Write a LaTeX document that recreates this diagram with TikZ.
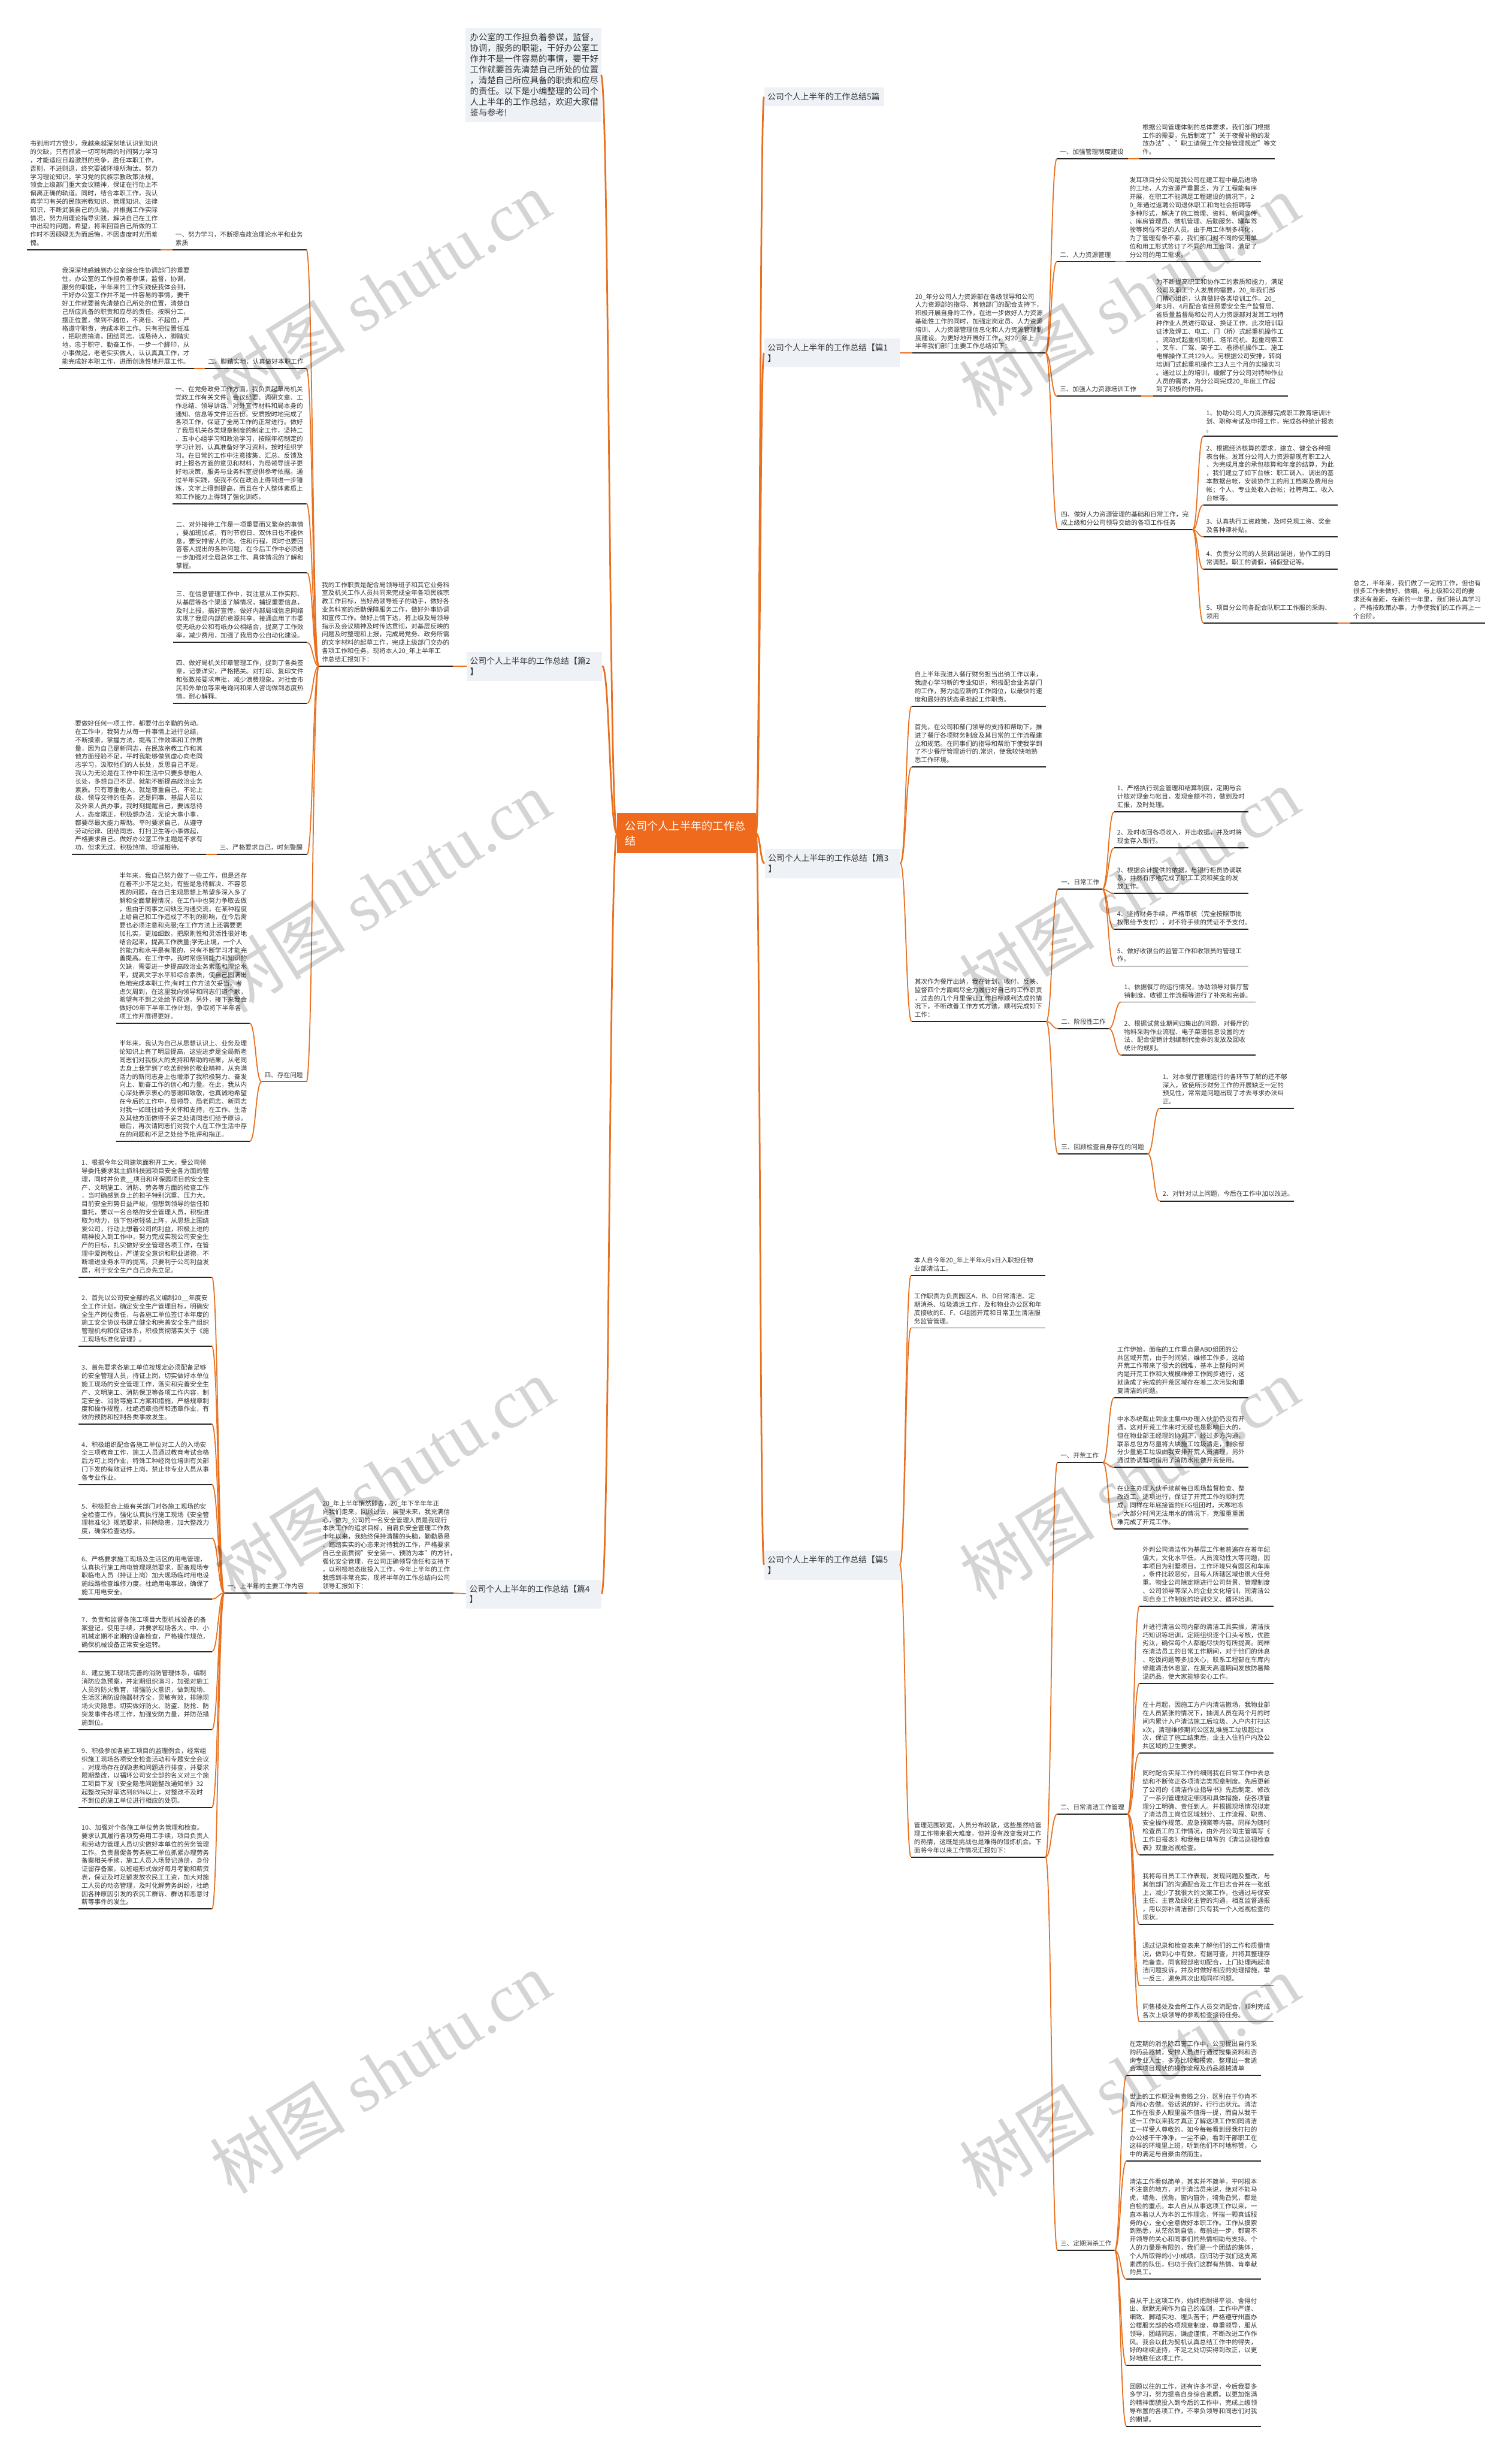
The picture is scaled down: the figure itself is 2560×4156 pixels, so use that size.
\documentclass[tikz,border=0pt]{standalone}
\usepackage{fontspec}
\setmainfont{Noto Sans CJK SC}
\newfontfamily\wmfont{Liberation Serif}
\usetikzlibrary{calc}
\definecolor{orc}{HTML}{E8701E}
\definecolor{ulc}{HTML}{262626}
\definecolor{txc}{HTML}{333333}
\definecolor{boxc}{HTML}{EEF1F5}
\definecolor{ctrc}{HTML}{F06A1E}
\tikzset{
  uline/.style={draw=ulc, line width=1.8pt},
  cn/.style={draw=orc, line width=1.8pt},
  cnA/.style={draw=orc, line width=2.8pt},
  txt/.style={anchor=south west, inner sep=0pt, align=left, text=txc, font=\fontsize{10.8}{14}\selectfont},
  lonebox/.style={fill=boxc, anchor=north west, inner xsep=6pt, inner ysep=0pt, text width=218pt, minimum height=49pt, align=left, text=txc, font=\fontsize{14}{18}\selectfont},
  ctrbox/.style={fill=ctrc, anchor=north west, inner xsep=14pt, inner ysep=0pt, text width=207pt, minimum height=68pt, align=left, text=white, font=\fontsize{18.5}{25}\selectfont},
  introbox/.style={fill=boxc, anchor=north west, inner xsep=8pt, inner ysep=0pt, text width=214pt, minimum height=160pt, align=left, text=txc, font=\fontsize{14.5}{18.3}\selectfont},
  wm/.style={text=black, opacity=0.17, inner sep=0pt, rotate=32, font=\fontsize{115}{115}\selectfont}
}
\newcommand{\mmnode}[5]{%
  \draw[uline] (#2,#4) coordinate (#1L) -- (#3,#4) coordinate (#1R);
  \node[txt] (#1) at (#2+5,#4-6.5) {#5};}
\newcommand{\mmconn}[2]{\draw[cn] (#1) .. controls ($(#1)!0.5!(#1 -| #2)$) and ($(#2)!0.5!(#2 -| #1)$) .. (#2);}
\newcommand{\mmconnA}[2]{\draw[cnA] (#1) .. controls ($(#1)!0.5!(#1 -| #2)$) and ($(#2)!0.5!(#2 -| #1)$) .. (#2);}
\begin{document}
\begin{tikzpicture}[x=1pt,y=-1pt]
\useasboundingbox (0,0) rectangle (2560,4156);
\fill[white] (0,0) rectangle (2560,4156);

% ---------- central and level-1 ----------
\node[ctrbox] (ctr) at (1045,1377) {公司个人上半年的工作总\\结};
\node[introbox] (intro) at (788,47) {办公室的工作担负着参谋，监督，\\协调，服务的职能，干好办公室工\\作并不是一件容易的事情，要干好\\工作就要首先清楚自己所处的位置\\，清楚自己所应具备的职责和应尽\\的责任。以下是小编整理的公司个\\人上半年的工作总结，欢迎大家借\\鉴与参考!};
\coordinate (introR) at (1018,127);
\node[lonebox, text width=191pt, minimum height=31pt] (Bfive) at (1294,148) {公司个人上半年的工作总结5篇};
\coordinate (BfiveL) at (1294,164);
\node[lonebox] (Bone) at (1294,573) {公司个人上半年的工作总结【篇1\\】};
\coordinate (BoneL) at (1294,598); \coordinate (BoneR) at (1524,598);
\node[lonebox] (Bthree) at (1295,1438) {公司个人上半年的工作总结【篇3\\】};
\coordinate (BthreeL) at (1295,1462); \coordinate (BthreeR) at (1525,1462);
\node[lonebox] (Bfv) at (1294,2626) {公司个人上半年的工作总结【篇5\\】};
\coordinate (BfvL) at (1294,2650); \coordinate (BfvR) at (1524,2650);
\node[lonebox] (Btwo) at (790,1104) {公司个人上半年的工作总结【篇2\\】};
\coordinate (BtwoL) at (790,1128); \coordinate (BtwoR) at (1020,1128);
\node[lonebox] (Bfour) at (789,2675) {公司个人上半年的工作总结【篇4\\】};
\coordinate (BfourL) at (789,2699); \coordinate (BfourR) at (1019,2699);

\mmconnA{ctr.west}{introR}
\mmconnA{ctr.west}{BtwoR}
\mmconnA{ctr.west}{BfourR}
\mmconnA{ctr.east}{BfiveL}
\mmconnA{ctr.east}{BoneL}
\mmconnA{ctr.east}{BthreeL}
\mmconnA{ctr.east}{BfvL}

% ---------- 篇2 (left) ----------
\mmnode{Lp}{540}{767}{1128}{我的工作职责是配合局领导班子和其它业务科\\室及机关工作人员共同来完成全年各项民族宗\\教工作目标，当好局领导班子的助手，做好各\\业务科室的后勤保障服务工作，做好外事协调\\和宣传工作。做好上情下达，将上级及局领导\\指示及会议精神及时传达贯彻，对基层反映的\\问题及时整理和上报，完成局党务、政务所需\\的文字材料的起草工作，完成上级部门交办的\\各项工作和任务。现将本人20\_年上半年工\\作总结汇报如下：}
\mmnode{La}{292}{519}{423}{一、努力学习，不断提高政治理论水平和业务\\素质}
\mmnode{Laa}{46}{272}{423}{书到用时方恨少，我越来越深刻地认识到知识\\的欠缺，只有抓紧一切可利用的时间努力学习\\，才能适应日趋激烈的竞争，胜任本职工作，\\否则，不进则退，终究要被环境所淘汰。努力\\学习理论知识，学习党的民族宗教政策法规，\\领会上级部门重大会议精神，保证在行动上不\\偏离正确的轨道。同时，结合本职工作，我认\\真学习有关的民族宗教知识、管理知识、法律\\知识，不断武装自己的头脑。并根据工作实际\\情况，努力用理论指导实践，解决自己在工作\\中出现的问题。希望，将来回首自己所做的工\\作时不因碌碌无为而后悔，不因虚度时光而羞\\愧。}
\mmnode{Lb}{347}{519}{624}{二、脚踏实地，认真做好本职工作}
\mmnode{Lba}{100}{329}{624}{我深深地感触到办公室综合性协调部门的重要\\性，办公室的工作担负着参谋，监督，协调，\\服务的职能，半年来的工作实践使我体会到，\\干好办公室工作并不是一件容易的事情，要干\\好工作就要首先清楚自己所处的位置，清楚自\\己所应具备的职责和应尽的责任。按照分工，\\摆正位置，做到不越位，不离任、不超位，严\\格遵守职责，完成本职工作。只有把位置任准\\，把职责搞清，团结同志、诚恳待人，脚踏实\\地，忠于职守、勤奋工作，一步一个脚印，从\\小事做起，老老实实做人，认认真真工作，才\\能完成好本职工作，进而创造性地开展工作。}
\mmnode{Lc}{292}{519}{853}{一、在党务政务工作方面，我负责起草局机关\\党政工作有关文件、会议纪要、调研文章、工\\作总结、领导讲话、对外宣传材料和局本身的\\通知、信息等文件近百份。安质按时地完成了\\各项工作，保证了全局工作的正常进行。做好\\了我局机关各类规章制度的制定工作，坚持二\\、五中心组学习和政治学习，按照年初制定的\\学习计划，认真准备好学习资料，按时组织学\\习。在日常的工作中注意搜集、汇总、反馈及\\时上报各方面的意见和材料，为局领导班子更\\好地决策，服务与业务科室提供参考依据。通\\过半年实践，使我不仅在政治上得到进一步锤\\炼，文字上得到提高，而且在个人整体素质上\\和工作能力上得到了强化训练。}
\mmnode{Ld}{293}{520}{970}{二、对外接待工作是一项重要而又繁杂的事情\\，要加班加点，有时节假日、双休日也不能休\\息，要安排客人的吃、住和行程，同时也要回\\答客人提出的各种问题，在今后工作中必须进\\一步加强对全局总体工作、具体情况的了解和\\掌握。}
\mmnode{Le}{293}{520}{1088}{三、在信息管理工作中，我注意从工作实际、\\从基层等各个渠道了解情况，捕捉重要信息，\\及时上报，搞好宣传。做好内部局域信息网络\\实现了我局内部的资源共享。接通启用了市委\\使无纸办公和有纸办公相结合，提高了工作效\\率，减少费用，加强了我局办公自动化建设。}
\mmnode{Lf}{293}{520}{1191}{四、做好局机关印章管理工作，捉到了各类签\\章，记录详实，严格把关。对打印、复印文件\\和张数按要求审批，减少浪费现象。对社会市\\民和外单位等来电询问和来人咨询做到态度热\\情，耐心解释。}
\mmnode{Lg}{367}{520}{1447}{三、严格要求自己，时刻警醒}
\mmnode{Lga}{122}{349}{1447}{要做好任何一项工作，都要付出辛勤的劳动。\\在工作中，我努力从每一件事情上进行总结，\\不断摸索，掌握方法，提高工作效率和工作质\\量，因为自己是新同志，在民族宗教工作和其\\他方面经验不足，平时我能够做到虚心向老同\\志学习，汲取他们的人长处，反思自己不足。\\我认为无论是在工作中和生活中只要多想他人\\长处，多想自己不足，就能不断提高政治业务\\素质。只有尊重他人，就是尊重自己，不论上\\级、领导交待的任务，还是同事、基层人员以\\及外来人员办事，我时刻提醒自己，要诚恳待\\人，态度端正，积极想办法，无论大事小事，\\都要尽最大能力帮助。平时要求自己，从遵守\\劳动纪律、团结同志、打扫卫生等小事做起，\\严格要求自己。做好办公室工作主题是不求有\\功、但求无过、积极热情、坦诚相待。}
\mmnode{Lh}{443}{519}{1832}{四、存在问题}
\mmnode{Lha}{197}{423}{1733}{半年来，我自己努力做了一些工作，但是还存\\在着不少不足之处，有些是急待解决、不容忽\\视的问题，在自己主观思想上希望多深入多了\\解和全面掌握情况，在工作中也努力争取去做\\，但由于同事之间缺乏沟通交流，在某种程度\\上给自己和工作造成了不利的影响，在今后需\\要也必须注意和克服;在工作方法上还需要更\\加扎实，更加细致，把原则性和灵活性很好地\\结合起来，提高工作质量;学无止境，一个人\\的能力和水平是有限的，只有不断学习才能完\\善提高。在工作中，我时常感到能力和知识的\\欠缺，需要进一步提高政治业务素质和理论水\\平，提高文字水平和综合素质，使自己圆满出\\色地完成本职工作;有时工作方法欠妥当，考\\虑欠周到，在这里我向领导和同志们道个歉，\\希望有不到之处给予原谅，另外，接下来我会\\做好09年下半年工作计划，争取将下半年各\\项工作开展得更好。}
\mmnode{Lhb}{197}{423}{1933}{半年来，我认为自己从思想认识上、业务及理\\论知识上有了明显提高，这些进步是全局新老\\同志们对我极大的支持和帮助的结果，从老同\\志身上我学到了吃苦耐劳的敬业精神，从充满\\活力的新同志身上也增添了我积极努力、奋发\\向上、勤奋工作的信心和力量。在此，我从内\\心深处表示衷心的感谢和致敬，也真诚地希望\\在今后的工作中，局领导、局老同志、新同志\\对我一如既往给予关怀和支持，在工作、生活\\及其他方面做得不妥之处请同志们给予原谅。\\最后，再次请同志们对我个人在工作生活中存\\在的问题和不足之处给予批评和指正。}
\mmconn{BtwoL}{LpR}
\mmconn{LpL}{LaR}
\mmconn{LpL}{LbR}
\mmconn{LpL}{LcR}
\mmconn{LpL}{LdR}
\mmconn{LpL}{LeR}
\mmconn{LpL}{LfR}
\mmconn{LpL}{LgR}
\mmconn{LpL}{LhR}
\mmconn{LaL}{LaaR}
\mmconn{LbL}{LbaR}
\mmconn{LgL}{LgaR}
\mmconn{LhL}{LhaR}
\mmconn{LhL}{LhbR}

% ---------- 篇4 (left) ----------
\mmnode{Mp}{541}{768}{2698}{20\_年上半年悄然即去，20\_年下半年年正\\向我们走来，回顾过去，展望未来，我充满信\\心，做为\_公司的一名安全管理人员是我现行\\本质工作的追求目标，自肩负安全管理工作数\\十年以来，我始终保持清醒的头脑，勤勤恳恳\\、踏踏实实的心态来对待我的工作，严格要求\\自己全面贯彻"安全第一、预防为本"的方针，\\强化安全管理，在公司正确领导信任和支持下\\，以积极地态度投入工作，今年上半年的工作\\我感到非常充实，现将半年的工作总结向公司\\领导汇报如下：}
\mmnode{Ma}{380}{521}{2698}{一、上半年的主要工作内容}
\mmnode{Maa}{133}{359}{2163}{1、根据今年公司建筑面积开工大，受公司领\\导委托要求我主抓科技园项目安全各方面的管\\理，同时并负责\_\_项目和环保园项目的安全生\\产、文明施工、消防、劳务等方面的检查工作\\，当时确感到身上的担子特别沉重、压力大。\\目前安全形势日益严峻，但想到领导的信任和\\重托，要以一名合格的安全管理人员，积极进\\取为动力，放下包袱轻装上阵，从思想上围绕\\爱公司，行动上想着公司的利益，积极上进的\\精神投入到工作中，努力完成实现公司安全生\\产的目标，扎实做好安全管理各项工作，在管\\理中爱岗敬业，严谨安全意识和职业道德，不\\断增进业务水平的提高，只要利于公司利益发\\展，利于安全生产自己身先立足。}
\mmnode{Mab}{133}{359}{2280}{2、首先以公司安全部的名义编制20\_\_年度安\\全工作计划，确定安全生产管理目标，明确安\\全生产岗位责任，与各施工单位签订本年度的\\施工安全协议书建立健全和完善安全生产组织\\管理机构和保证体系，积极贯彻落实关于《施\\工现场标准化管理》。}
\mmnode{Mac}{133}{359}{2412}{3、首先要求各施工单位按规定必须配备足够\\的安全管理人员，持证上岗，切实做好本单位\\施工现场的安全管理工作，落实和完善安全生\\产、文明施工、消防保卫等各项工作内容，制\\定安全、消防等施工方案和措施，严格规章制\\度和操作规程，杜绝违章指挥和违章作业，有\\效的预防和控制各类事故发生。}
\mmnode{Mad}{133}{359}{2514}{4、积极组织配合各施工单位对工人的入场安\\全三项教育工作，施工人员通过教育考试合格\\后方可上岗作业，特殊工种经岗位培训有关部\\门下发的有效证件上岗，禁止非专业人员从事\\各专业作业。}
\mmnode{Mae}{133}{359}{2605}{5、积极配合上级有关部门对各施工现场的安\\全检查工作，强化认真执行施工现场《安全管\\理标准化》规范要求，排除隐患，加大整改力\\度，确保检查达标。}
\mmnode{Maf}{133}{359}{2708}{6、严格要求施工现场及生活区的用电管理，\\认真执行施工用电管理规范要求，配备现场专\\职临电人员（持证上岗）加大现场临时用电设\\施线路检查维修力度。杜绝用电事故，确保了\\施工用电安全。}
\mmnode{Mag}{133}{359}{2797}{7、负责和监督各施工项目大型机械设备的备\\案登记，使用手续，并要求现场各大、中、小\\机械定期不定期的设备检查，严格操作规范，\\确保机械设备正常安全运转。}
\mmnode{Mah}{133}{359}{2929}{8、建立施工现场完善的消防管理体系，编制\\消防应急预案，并定期组织演习，加强对施工\\人员的防火教育，增强防火意识，做到现场、\\生活区消防设施器材齐全，灵敏有效，排除现\\场火灾隐患。切实做好防火、防盗、防抢、防\\突发事件各项工作，加强安防力量，并防范措\\施到位。}
\mmnode{Mai}{133}{359}{3061}{9、积极参加各施工项目的监理例会，经常组\\织施工现场各项安全检查活动和专题安全会议\\，对现场存在的隐患和问题进行排查，并要求\\限期整改，以福环公司安全部的名义对三个施\\工项目下发《安全隐患问题整改通知单》32\\起整改完好率达到85\%以上，对整改不及时\\不到位的施工单位进行相应的处罚。}
\mmnode{Maj}{133}{359}{3233}{10、加强对个各施工单位劳务管理和检查。\\要求认真履行各项劳务用工手续，项目负责人\\和劳动力管理人员切实做好本单位的劳务管理\\工作。负责督促各劳务施工单位抓紧办理劳务\\备案相关手续，施工人员入场登记造册，身份\\证留存备案，以班组形式做好每月考勤和薪资\\表，保证及时足额发放农民工工资，加大对施\\工人员的动态管理，及时化解劳务纠纷，杜绝\\因各种原因引发的农民工群诉、群访和恶意讨\\薪等事件的发生。}
\mmconn{BfourL}{MpR}
\mmconn{MpL}{MaR}
\mmconn{MaL}{MaaR}
\mmconn{MaL}{MabR}
\mmconn{MaL}{MacR}
\mmconn{MaL}{MadR}
\mmconn{MaL}{MaeR}
\mmconn{MaL}{MafR}
\mmconn{MaL}{MagR}
\mmconn{MaL}{MahR}
\mmconn{MaL}{MaiR}
\mmconn{MaL}{MajR}

% ---------- 篇1 (right) ----------
\mmnode{Rp}{1545}{1771}{598}{20\_年分公司人力资源部在各级领导和公司\\人力资源部的指导、其他部门的配合支持下，\\积极开展自身的工作，在进一步做好人力资源\\基础性工作的同时，加强定岗定员、人力资源\\培训、人力资源管理信息化和人力资源管理制\\度建设。为更好地开展好工作，对20\_年上\\半年我们部门主要工作总结如下：}
\mmnode{Ra}{1790}{1911}{269}{一、加强管理制度建设}
\mmnode{Raa}{1930}{2159}{269}{根据公司管理体制的总体要求，我们部门根据\\工作的需要，先后制定了"关于夜餐补助的发\\放办法"、"职工请假工作交接管理规定"等文\\件。}
\mmnode{Rb}{1790}{1889}{443}{二、人力资源管理}
\mmnode{Rba}{1908}{2136}{443}{发耳项目分公司是我公司在建工程中最后进场\\的工地，人力资源严重匮乏，为了工程能有序\\开展，在职工不能满足工程建设的情况下，2\\0\_年通过返聘公司退休职工和向社会招聘等\\多种形式，解决了施工管理、资料、新闻宣传\\、库房管理员、微机管理、后勤服务、罐车驾\\驶等岗位不足的人员。由于用工体制多样化，\\为了管理有条不紊，我们部门对不同的使用单\\位和用工形式签订了不同的用工合同，满足了\\分公司的用工需求。}
\mmnode{Rc}{1790}{1933}{671}{三、加强人力资源培训工作}
\mmnode{Rca}{1953}{2181}{671}{为不断提高职工和协作工的素质和能力，满足\\公司及职工个人发展的需要，20\_年我们部\\门精心组织，认真做好各类培训工作。20\_\\年3月、4月配合省经贸委安全生产监督局、\\省质量监督局和公司人力资源部对发耳工地特\\种作业人员进行取证、换证工作，此次培训取\\证涉及焊工、电工、门（桥）式起重机操作工\\、流动式起重机司机、塔吊司机、起重司索工\\、叉车、厂驾、架子工、卷扬机操作工、施工\\电梯操作工共129人。另根据公司安排，转岗\\培训门式起重机操作工3人三个月的实操实习\\。通过以上的培训，缓解了分公司对特种作业\\人员的需求，为分公司完成20\_年度工作起\\到了积极的作用。}
\mmnode{Rd}{1792}{2020}{897}{四、做好人力资源管理的基础和日常工作，完\\成上级和分公司领导交给的各项工作任务}
\mmnode{Rda}{2038}{2266}{739}{1、协助公司人力资源部完成职工教育培训计\\划、职称考试及申报工作，完成各种统计报表\\。}
\mmnode{Rdb}{2038}{2266}{855}{2、根据经济核算的要求，建立、健全各种报\\表台帐。发耳分公司人力资源部现有职工2人\\，为完成月度的承包核算和年度的结算，为此\\，我们建立了如下台帐：职工调入、调出的基\\本数据台帐，安装协作工的用工档案及费用台\\帐；个人、专业处收入台帐；社聘用工、收入\\台帐等。}
\mmnode{Rdc}{2038}{2266}{909}{3、认真执行工资政策，及时兑现工资、奖金\\及各种津补贴。}
\mmnode{Rdd}{2038}{2266}{964}{4、负责分公司的人员调出调进，协作工的日\\常调配，职工的请假，销假登记等。}
\mmnode{Rde}{2038}{2266}{1055}{5、项目分公司各配合队职工工作服的采购、\\领用}
\mmnode{Rdf}{2287}{2515}{1055}{总之，半年来，我们做了一定的工作，但也有\\很多工作未做好、做细，与上级和公司的要\\求还有差距，在新的一年里，我们将认真学习\\，严格按政策办事，力争使我们的工作再上一\\个台阶。}
\mmconn{BoneR}{RpL}
\mmconn{RpR}{RaL}
\mmconn{RpR}{RbL}
\mmconn{RpR}{RcL}
\mmconn{RpR}{RdL}
\mmconn{RaR}{RaaL}
\mmconn{RbR}{RbaL}
\mmconn{RcR}{RcaL}
\mmconn{RdR}{RdaL}
\mmconn{RdR}{RdbL}
\mmconn{RdR}{RdcL}
\mmconn{RdR}{RddL}
\mmconn{RdR}{RdeL}
\mmconn{RdeR}{RdfL}

% ---------- 篇3 (right) ----------
\mmnode{Sa}{1544}{1772}{1196}{自上半年我进入餐厅财务担当出纳工作以来，\\我虚心学习新的专业知识，积极配合业务部门\\的工作，努力适应新的工作岗位，以最快的速\\度和最好的状态承担起工作职责。}
\mmnode{Sb}{1544}{1772}{1299}{首先，在公司和部门领导的支持和帮助下，推\\进了餐厅各项财务制度及其日常的工作流程建\\立和规范。在同事们的指导和帮助下使我学到\\了不少餐厅管理运行的.常识，使我较快地熟\\悉工作环境。}
\mmnode{Sc}{1544}{1772}{1730}{其次作为餐厅出纳，我在计划、收付、反映、\\监督四个方面竭尽全力履行好自己的工作职责\\，过去的几个月里保证工作目标顺利达成的情\\况下，不断改善工作方式方法，顺利完成如下\\工作：}
\mmnode{Sd}{1792}{1867}{1506}{一、日常工作}
\mmnode{Sda}{1887}{2115}{1375}{1、严格执行现金管理和结算制度，定期与会\\计核对现金与帐目，发现金额不符，做到及时\\汇报，及时处理。}
\mmnode{Sdb}{1887}{2115}{1436}{2、及时收回各项收入，开出收据，并及时将\\现金存入银行。}
\mmnode{Sdc}{1887}{2115}{1513}{3、根据会计提供的依据，与银行柜员协调联\\系，井然有序地完成了职工工资和奖金的发\\放工作。}
\mmnode{Sdd}{1887}{2115}{1574}{4、坚持财务手续，严格审核（完全按照审批\\权限给予支付），对不符手续的凭证不予支付。}
\mmnode{Sde}{1887}{2115}{1636}{5、做好收银台的监管工作和收银员的管理工\\作。}
\mmnode{Se}{1792}{1878}{1742}{二、阶段性工作}
\mmnode{Sea}{1899}{2127}{1697}{1、依据餐厅的运行情况，协助领导对餐厅营\\销制度、收银工作流程等进行了补充和完善。}
\mmnode{Seb}{1899}{2127}{1787}{2、根据试营业期间归集出的问题，对餐厅的\\物料采购作业流程、电子菜谱信息设置的方\\法、配合促销计划编制代金券的发放及回收\\统计的规则。}
\mmnode{Sf}{1792}{1944}{1954}{三、回顾检查自身存在的问题}
\mmnode{Sfa}{1964}{2192}{1877}{1、对本餐厅管理运行的各环节了解的还不够\\深入，致使所涉财务工作的开展缺乏一定的\\预见性，常常是问题出现了才去寻求办法纠\\正。}
\mmnode{Sfb}{1964}{2192}{2034}{2、对针对以上问题，今后在工作中加以改进。}
\mmconn{BthreeR}{SaL}
\mmconn{BthreeR}{SbL}
\mmconn{BthreeR}{ScL}
\mmconn{ScR}{SdL}
\mmconn{ScR}{SeL}
\mmconn{ScR}{SfL}
\mmconn{SdR}{SdaL}
\mmconn{SdR}{SdbL}
\mmconn{SdR}{SdcL}
\mmconn{SdR}{SddL}
\mmconn{SdR}{SdeL}
\mmconn{SeR}{SeaL}
\mmconn{SeR}{SebL}
\mmconn{SfR}{SfaL}
\mmconn{SfR}{SfbL}

% ---------- 篇5 (right) ----------
\mmnode{Ta}{1543}{1771}{2160}{本人自今年20\_年上半年x月x日入职担任物\\业部清洁工。}
\mmnode{Tb}{1543}{1771}{2249}{工作职责为负责园区A、B、D日常清洁、定\\期消杀、垃圾清运工作，及和物业办公区和年\\底接收的E、F、G组团开荒和日常卫生清洁服\\务监管管理。}
\mmnode{Tc}{1543}{1771}{3145}{管理范围较宽，人员分布较散，这些虽然给管\\理工作带来很大难度，但并没有改变我对工作\\的热情，这既是挑战也是难得的锻炼机会。下\\面将今年以来工作情况汇报如下：}
\mmnode{Td}{1791}{1868}{2477}{一、开荒工作}
\mmnode{Tda}{1887}{2115}{2367}{工作伊始，面临的工作重点是ABD组团的公\\共区域开荒，由于时间紧，维修工作多，这给\\开荒工作带来了很大的困难，基本上整段时间\\内是开荒工作和大规模维修工作同步进行，这\\就造成了完成的开荒区域存在着二次污染和重\\复清洁的问题。}
\mmnode{Tdb}{1887}{2115}{2485}{中水系统截止到业主集中办理入伙前仍没有开\\通，这对开荒工作来时无疑也是影响巨大的，\\但在物业部王经理的协调下，经过多方沟通，\\联系总包方尽量将大块施工垃圾清走，剩余部\\分少量施工垃圾由我安排开荒人员清理，另外\\通过协调暂时借用了消防水用做开荒使用。}
\mmnode{Tdc}{1887}{2115}{2589}{在业主办理入伙手续前每日现场监督检查、整\\改返工、逐项进行，保证了开荒工作的顺利完\\成。同样在年底接管的EFG组团时，天寒地冻\\，大部分时间无法用水的情况下，克服重重困\\难完成了开荒工作。}
\mmnode{Te}{1791}{1910}{3072}{二、日常清洁工作管理}
\mmnode{Tea}{1930}{2157}{2720}{外判公司清洁作为基层工作者普遍存在着年纪\\偏大，文化水平低，人员流动性大等问题，因\\本项目为别墅项目，工作环境只有园区和车库\\，条件比较恶劣，且每人所辖区域也很大任务\\重。物业公司除定期进行公司背景、管理制度\\、公司领导等深入的企业文化培训，同清洁公\\司自身工作制度的培训交叉、循环培训。}
\mmnode{Teb}{1930}{2157}{2851}{并进行清洁公司内部的清洁工具实操，清洁技\\巧知识等培训，定期组织逐个口头考核，优胜\\劣汰，确保每个人都能尽快的有所提高。同样\\在清洁员工的日常工作期间，对于他们的休息\\、吃饭问题等多加关心，联系工程部在车库内\\修建清洁休息室，在夏天高温期间发放防暑降\\温药品，使大家能够安心工作。}
\mmnode{Tec}{1930}{2157}{2969}{在十月起，因施工方户内清洁撤场，我物业部\\在人员紧张的情况下，抽调人员在两个月的时\\间内累计入户清洁施工后垃圾、入户内打扫达\\x次，清理维修期间公区乱堆施工垃圾超过x\\次，保证了施工结束后，业主入住前户内及公\\共区域的卫生要求。}
\mmnode{Ted}{1930}{2157}{3141}{同时配合实际工作的细则我在日常工作中去总\\结和不断修正各项清洁类规章制度。先后更新\\了公司的《清洁作业指导书》先后制定、修改\\了一系列管理规定细则和具体措施，使各项管\\理分工明确、责任到人。并根据现场情况拟定\\了清洁员工岗位区域划分、工作流程、职责、\\安全操作规范、应急预案等内容。同样为随时\\检查员工的工作情况，由外判公司主管填写《\\工作日报表》和我每日填写的《清洁巡视检查\\表》双重巡视检查。}
\mmnode{Tee}{1930}{2157}{3259}{我将每日员工工作表现，发现问题及整改，与\\其他部门的沟通配合及工作日志合并在一张纸\\上，减少了我很大的文案工作，也通过与保安\\主任、主管及绿化主管的沟通，相互监督通报\\，用以弥补清洁部门只有我一个人巡视检查的\\现状。}
\mmnode{Tef}{1930}{2157}{3363}{通过记录和检查表来了解他们的工作和质量情\\况，做到心中有数，有据可查，并将其整理存\\档备查。同客服部密切配合，上门处理两起清\\洁问题投诉，并及时做好相应的处理措施，举\\一反三，避免再次出现同样问题。}
\mmnode{Teg}{1930}{2157}{3424}{同售楼处及会所工作人员交流配合，顺利完成\\各次上级领导的参观检查接待任务。}
\mmnode{Tf}{1791}{1888}{3811}{三、定期消杀工作}
\mmnode{Tfa}{1908}{2136}{3515}{在定期的消杀除四害工作中，公司提出自行采\\购药品器械，安排人员进行通过搜集资料和咨\\询专业人士，多方比较和摸索，整理出一套适\\合本项目现状的操作流程及药品器械清单}
\mmnode{Tfb}{1908}{2136}{3660}{世上的工作原没有贵贱之分，区别在于你肯不\\肯用心去做。俗话说的好，行行出状元。清洁\\工作在很多人眼里虽不值得一提，而自从我干\\这一工作以来我才真正了解这项工作如同清洁\\工一样受人尊敬的。如今每每看到经我打扫的\\办公楼干干净净，一尘不染，看到干部职工在\\这样的环境里上班，听到他们不时地称赞，心\\中的满足与自豪由然而生。}
\mmnode{Tfc}{1908}{2136}{3860}{清洁工作看似简单，其实并不简单，平时根本\\不注意的地方，对于清洁员来说，绝对不能马\\虎，墙角、拐角，窗内窗外，犄角旮旯，都是\\自检的重点。本人自从从事这项工作以来，一\\直本着以人为本的工作理念，怀揣一颗真诚服\\务的心，全心全意做好本职工作。工作从摸索\\到熟悉，从茫然到自信，每前进一步，都离不\\开领导的关心和同事们的热情相助与支持。个\\人的力量是有限的，我们是一个团结的集体，\\个人所取得的小小成绩，应归功于我们这支高\\素质的队伍，归功于我们这群有热情、肯奉献\\的员工。}
\mmnode{Tfd}{1908}{2136}{4006}{自从干上这项工作，始终把耐得平淡、舍得付\\出、默默无闻作为自己的准则，工作中严谨、\\细致、脚踏实地、埋头苦干；严格遵守州直办\\公楼服务部的各项规章制度，尊重领导，服从\\领导，团结同志，谦虚谨慎，不断改进工作作\\风。我会以此为契机认真总结工作中的得失，\\好的继续坚持，不足之处切实得到改正，以更\\好地胜任这项工作。}
\mmnode{Tfe}{1908}{2136}{4109}{回顾以往的工作，还有许多不足，今后我要多\\多学习，努力提高自身综合素质。以更加饱满\\的精神面貌投入到今后的工作中，完成上级领\\导布置的各项工作，不辜负领导和同志们对我\\的期望。}
\mmconn{BfvR}{TaL}
\mmconn{BfvR}{TbL}
\mmconn{BfvR}{TcL}
\mmconn{TcR}{TdL}
\mmconn{TcR}{TeL}
\mmconn{TcR}{TfL}
\mmconn{TdR}{TdaL}
\mmconn{TdR}{TdbL}
\mmconn{TdR}{TdcL}
\mmconn{TeR}{TeaL}
\mmconn{TeR}{TebL}
\mmconn{TeR}{TecL}
\mmconn{TeR}{TedL}
\mmconn{TeR}{TeeL}
\mmconn{TeR}{TefL}
\mmconn{TeR}{TegL}
\mmconn{TfR}{TfaL}
\mmconn{TfR}{TfbL}
\mmconn{TfR}{TfcL}
\mmconn{TfR}{TfdL}
\mmconn{TfR}{TfeL}

% ---------- watermarks ----------
\node[wm] (wma) at (644,495) {树图\hspace{0.25em}{\wmfont shutu.cn}};
\node[wm] (wmb) at (1913,500) {树图\hspace{0.25em}{\wmfont shutu.cn}};
\node[wm] (wmc) at (644,1510) {树图\hspace{0.25em}{\wmfont shutu.cn}};
\node[wm] (wmd) at (1913,1505) {树图\hspace{0.25em}{\wmfont shutu.cn}};
\node[wm] (wme) at (650,2505) {树图\hspace{0.25em}{\wmfont shutu.cn}};
\node[wm] (wmf) at (1913,2505) {树图\hspace{0.25em}{\wmfont shutu.cn}};
\node[wm] (wmg) at (644,3510) {树图\hspace{0.25em}{\wmfont shutu.cn}};
\node[wm] (wmh) at (1913,3515) {树图\hspace{0.25em}{\wmfont shutu.cn}};
\end{tikzpicture}
\end{document}
